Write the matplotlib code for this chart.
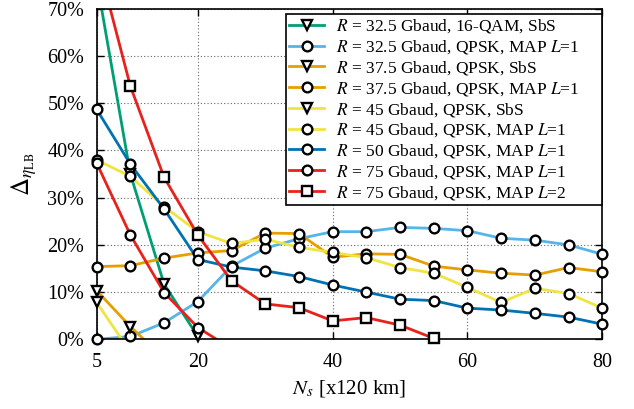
import numpy as np
import matplotlib
matplotlib.use('Agg')
import matplotlib.pyplot as plt

plt.rcParams['font.family'] = ['Liberation Serif', 'DejaVu Serif']
plt.rcParams['mathtext.fontset'] = 'stix'

# numero de spans (x120 km)
ns = [5, 10, 15, 20, 25, 30, 35, 40, 45, 50, 55, 60, 65, 70, 75, 80]

# ganhos em %
g325_16qam_sbs = [76, 35, 11.7, 0.6]
g325_map1 = [0, 0.6, 3.5, 8.0, 15.5, 19.3, 21.3, 22.8, 22.8, 23.7, 23.5, 23.0, 21.4, 21.0, 20.0, 18.0]
g375_sbs = [10.3, 2.7, -4.1]
g375_map1 = [15.4, 15.6, 17.2, 18.3, 18.8, 22.5, 22.4, 17.4, 18.1, 18.0, 15.5, 14.7, 14.0, 13.6, 15.2, 14.3]
g45_sbs = [7.8, -2.7]
g45_map1 = [38.0, 34.5, 28.1, 22.8, 20.3, 21.2, 19.5, 18.4, 17.3, 15.2, 14.0, 11.0, 7.8, 10.8, 9.7, 6.6]
g50_map1 = [48.7, 37.1, 27.6, 16.9, 15.3, 14.5, 13.3, 11.5, 10.0, 8.5, 8.2, 6.6, 6.2, 5.5, 4.7, 3.2]
g75_map1 = [37.3, 22.1, 9.9, 2.5, -2.0]
g75_map2 = [81, 53.6, 34.3, 22.1, 12.4, 7.5, 6.7, 3.9, 4.6, 3.0, 0.2]

series = [
    (g325_16qam_sbs, '#009E73', 'v', r'$R$ = 32.5 Gbaud, 16-QAM, SbS'),
    (g325_map1, '#56B4E9', 'o', r'$R$ = 32.5 Gbaud, QPSK, MAP $L$=1'),
    (g375_sbs, '#E69F00', 'v', r'$R$ = 37.5 Gbaud, QPSK, SbS'),
    (g375_map1, '#E69F00', 'o', r'$R$ = 37.5 Gbaud, QPSK, MAP $L$=1'),
    (g45_sbs, '#F0E442', 'v', r'$R$ = 45 Gbaud, QPSK, SbS'),
    (g45_map1, '#F0E442', 'o', r'$R$ = 45 Gbaud, QPSK, MAP $L$=1'),
    (g50_map1, '#0072B2', 'o', r'$R$ = 50 Gbaud, QPSK, MAP $L$=1'),
    (g75_map1, '#E8221A', 'o', r'$R$ = 75 Gbaud, QPSK, MAP $L$=1'),
    (g75_map2, '#E8221A', 's', r'$R$ = 75 Gbaud, QPSK, MAP $L$=2'),
]

fig = plt.figure(figsize=(6.34, 4.09), dpi=100)
ax = fig.add_axes([0.1525, 0.1704, 0.7975, 0.808])

handles = []
for vals, cor, mk, rot in series:
    x = np.array(ns[:len(vals)])
    y = np.array(vals)
    ax.plot(x, y, color=cor, lw=2.0, zorder=2)
    # marcadores so dentro do intervalo visivel, sem corte na borda
    vis = (y >= 0) & (y <= 70)
    ax.plot(x[vis], y[vis], ls='none', marker=mk, ms=7, mew=1.7,
            mec='black', mfc='white', zorder=4, clip_on=False)
    h, = ax.plot([], [], color=cor, lw=2.0, marker=mk, ms=7, mew=1.7,
                 mec='black', mfc='white')
    handles.append((h, rot))

ax.set_xlim(5, 80)
ax.set_ylim(0, 70)
ax.set_xticks([5, 20, 40, 60, 80])
ax.set_yticks(np.arange(0, 71, 10))
ax.set_yticklabels(['%d%%' % v for v in range(0, 71, 10)])
ax.tick_params(direction='in', top=True, right=True, labelsize=14.5, length=5, width=1)
ax.tick_params(axis='y', pad=9)
ax.tick_params(axis='x', pad=10)
ax.grid(True, ls=(0, (1, 2)), color='#666666', lw=0.8)
for s in ax.spines.values():
    s.set_linewidth(1.2)

ax.set_xlabel(r'$N_s$ [x120 km]', fontsize=15, labelpad=4)
ax.set_ylabel(r'$\Delta_{\eta_{\mathrm{LB}}}$', fontsize=18, labelpad=6)

leg = ax.legend([h for h, r in handles], [r for h, r in handles],
                loc='upper left', bbox_to_anchor=(0.3739, 0.5, 0.625, 0.4846),
                mode='expand', borderaxespad=0,
                fontsize=12.5, handlelength=2.0, handletextpad=0.7,
                labelspacing=0.16, borderpad=0.2, fancybox=False,
                framealpha=1, edgecolor='black', numpoints=1)
leg.get_frame().set_linewidth(1.2)
leg.set_zorder(10)

fig.savefig('out.png', dpi=100)
